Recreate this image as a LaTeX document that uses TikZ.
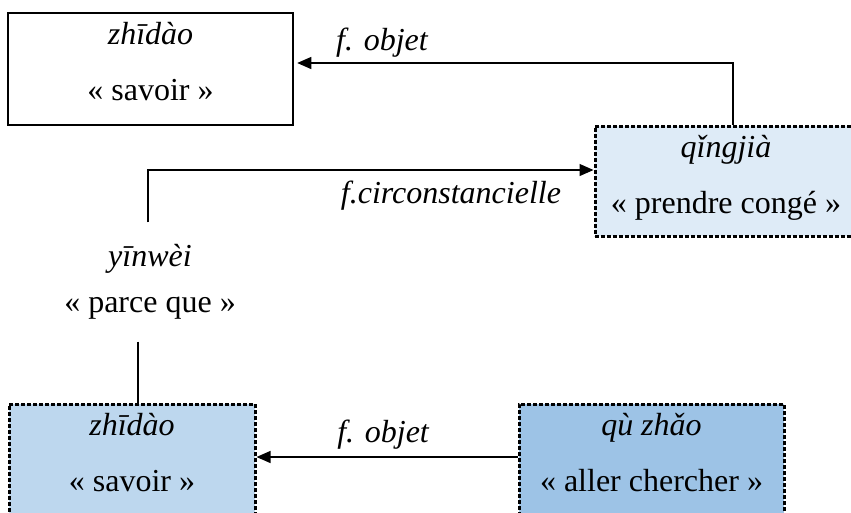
\documentclass[tikz,border=0pt]{standalone}
\usepackage{fontspec}
\setmainfont{Liberation Serif}
\usetikzlibrary{arrows.meta, positioning}
\definecolor{paleblue}{HTML}{DEEBF7}
\definecolor{lightblue}{HTML}{BDD7EE}
\definecolor{midblue}{HTML}{9DC3E6}

\begin{document}
\begin{tikzpicture}[
    x=1pt, y=-1pt,
    lexeme/.style={rectangle, draw, line width=2.5pt, inner sep=0pt, align=center, font=\fontsize{32}{56}\selectfont, text height=87pt, text depth=25pt},
    dotbox/.style={lexeme, line width=3pt, dash pattern=on 4pt off 2pt},
    dep/.style={line width=1.2pt},
    arc/.style={dep, -{Triangle[length=14pt, width=12pt]}},
    fn/.style={font=\fontsize{32}{38}\selectfont\itshape},
]
  \useasboundingbox (0,0) rectangle (851,512);
  \node[lexeme, minimum width=285pt] (zhidaoA) at (150.5,69) {\textit{zhīdào}\\« savoir »};
  \node[dotbox, fill=paleblue, minimum width=262pt, text depth=23pt] (qingjia) at (726,181) {\textit{qǐngjià}\\« prendre congé »};
  \node[font=\fontsize{32}{46}\selectfont, align=center, inner ysep=22pt] (yinwei) at (150,282) {\textit{yīnwèi}\\« parce que »};
  \node[dotbox, fill=lightblue, minimum width=246pt] (zhidaoB) at (132,460) {\textit{zhīdào}\\« savoir »};
  \node[dotbox, fill=midblue, minimum width=265pt] (quzhao) at (651.5,460) {\textit{qù zhǎo}\\« aller chercher »};

  \draw[arc, shorten >=3pt] ([xshift=7pt]qingjia.north) |- node[fn, pos=0.9, above=2pt] {f. objet} ([yshift=6pt]zhidaoA.east);
  \draw[arc] ([xshift=-2pt]yinwei.north) |- node[fn, pos=0.84, below=7pt] {f.circonstancielle} ([yshift=11pt]qingjia.west);
  \draw[dep] ([xshift=-12pt]yinwei.south) -- ([xshift=6pt]zhidaoB.north);
  \draw[arc] ([yshift=3pt]quzhao.west) -- node[fn, pos=0.515, above=4pt] {f. objet} ([yshift=3pt]zhidaoB.east);
\end{tikzpicture}
\end{document}
